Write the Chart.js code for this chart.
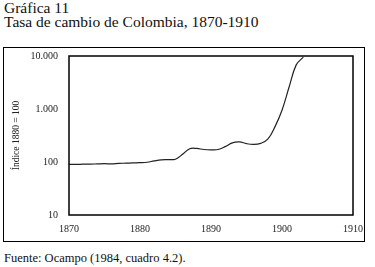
<!DOCTYPE html>
<html>
<head>
<meta charset="utf-8">
<script src="https://cdn.jsdelivr.net/npm/chart.js@4/dist/chart.umd.min.js"></script>
<style>
    body { margin: 0; width: 375px; height: 267px; background: #fff; position: relative; overflow: hidden; font-family: "Liberation Serif", "DejaVu Serif", serif; color: #111; }
    .title { position: absolute; left: 4px; font-size: 15.5px; line-height: 15px; white-space: nowrap; }
    .frame { position: absolute; left: 3px; top: 47px; width: 362px; height: 195px; box-sizing: border-box; border: 1.5px solid #000; }
    .source { position: absolute; left: 4px; top: 251px; font-size: 12.5px; white-space: nowrap; }
    #chart { position: absolute; left: 0; top: 0; }
</style>
</head>
<body>
<div class="title" style="top: 0px;">Gráfica 11</div>
<div class="title" style="top: 14px;">Tasa de cambio de Colombia, 1870-1910</div>
<div class="frame"></div>
<div class="source">Fuente: Ocampo (1984, cuadro 4.2).</div>
<canvas id="chart" width="375" height="267"></canvas>
<script>
// ========================================
// Data (índice 1880 = 100)
// ========================================
const years = [1870, 1871, 1872, 1873, 1874, 1875, 1876, 1877, 1878, 1879,
    1880, 1881, 1882, 1883, 1884, 1885, 1886, 1887, 1888, 1889,
    1890, 1891, 1892, 1893, 1894, 1895, 1896, 1897, 1898, 1899,
    1900, 1901, 1902, 1903];
const rateIndex = [90, 90, 91, 91, 92, 93, 92, 94, 95, 96,
    97, 99, 105, 110, 111, 113, 140, 178, 180, 172,
    170, 172, 195, 230, 240, 222, 215, 225, 270, 460,
    950, 2600, 6800, 9500];
const yTicks = [10, 100, 1000, 10000];
const xTicks = [1870, 1880, 1890, 1900, 1910];

const serif = '"Liberation Serif", "DejaVu Serif", serif';

function formatThousands(v) {
    return String(v).replace(/\B(?=(\d{3})+(?!\d))/g, '.');
}

// box around the plot area
const plotBorder = {
    id: 'plotBorder',
    afterDraw(chart) {
        const a = chart.chartArea;
        const ctx = chart.ctx;
        ctx.save();
        ctx.strokeStyle = '#000';
        ctx.lineWidth = 1.5;
        ctx.strokeRect(a.left, a.top, a.right - a.left, a.bottom - a.top);
        ctx.restore();
    }
};

new Chart(document.getElementById('chart'), {
    type: 'line',
    data: {
        datasets: [{
            data: years.map((y, i) => ({ x: y, y: rateIndex[i] })),
            borderColor: '#222',
            borderWidth: 1.2,
            pointRadius: 0,
            tension: 0.4,
            fill: false
        }]
    },
    options: {
        responsive: false,
        animation: false,
        layout: { padding: { left: 0, top: 56, right: 22, bottom: 32 } },
        plugins: { legend: { display: false }, tooltip: { enabled: false } },
        scales: {
            x: {
                type: 'linear',
                min: 1870,
                max: 1910,
                afterBuildTicks: s => { s.ticks = xTicks.map(v => ({ value: v })); },
                afterFit: s => { s.height = 20; },
                grid: { display: false, drawTicks: false },
                border: { display: false },
                ticks: {
                    color: '#222',
                    padding: 8,
                    font: { family: serif, size: 10 },
                    callback: v => String(v)
                }
            },
            y: {
                type: 'logarithmic',
                min: 10,
                max: 10000,
                afterBuildTicks: s => { s.ticks = yTicks.map(v => ({ value: v })); },
                afterFit: s => { s.width = 69; },
                grid: { display: false, drawTicks: false },
                border: { display: false },
                ticks: {
                    color: '#222',
                    padding: 11,
                    font: { family: serif, size: 10 },
                    callback: v => formatThousands(v)
                },
                title: {
                    display: true,
                    text: 'Índice 1880 = 100',
                    color: '#222',
                    font: { family: serif, size: 9.5 },
                    padding: { top: 11, bottom: 0 }
                }
            }
        }
    },
    plugins: [plotBorder]
});
</script>
</body>
</html>
